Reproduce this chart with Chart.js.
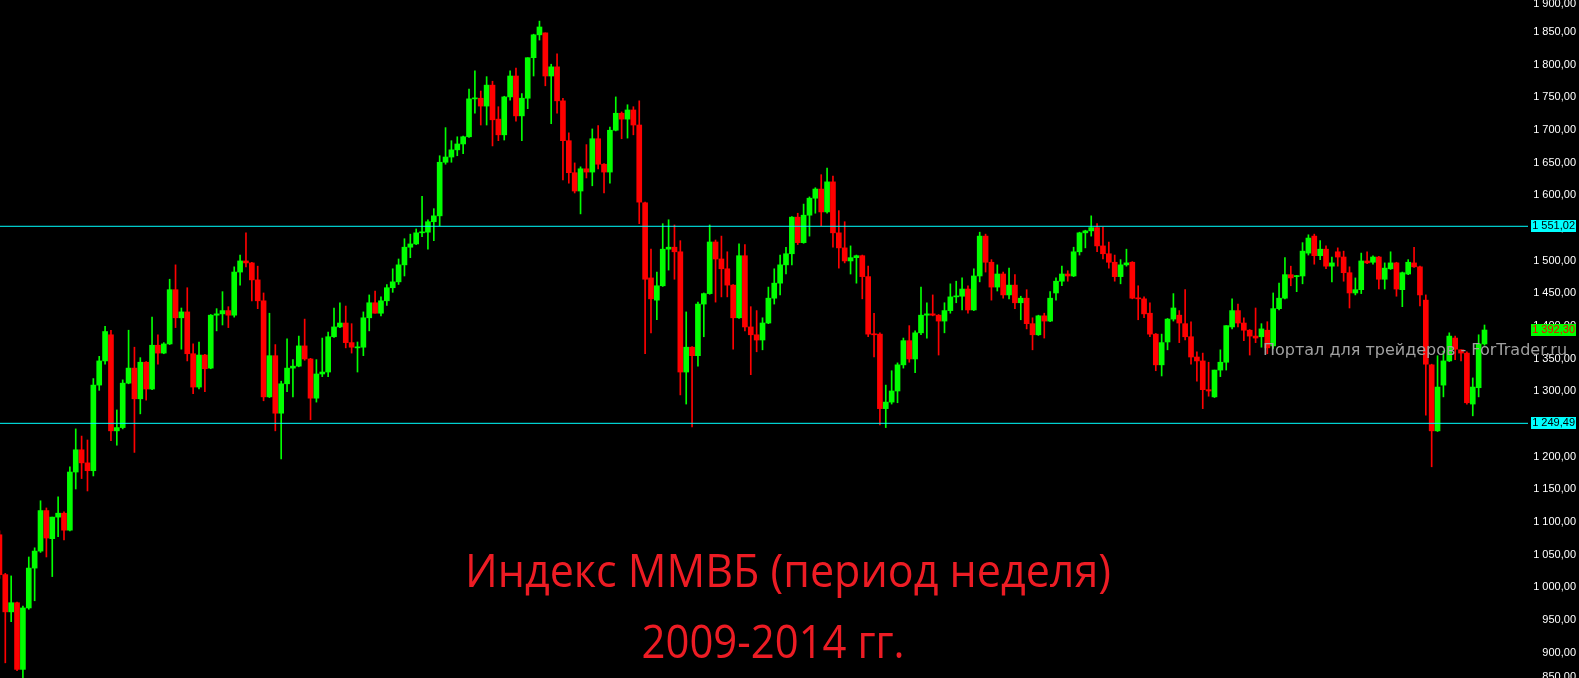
<!DOCTYPE html>
<html>
<head>
<meta charset="utf-8">
<title>Индекс ММВБ (период неделя)</title>
<script src="https://cdn.jsdelivr.net/npm/chart.js@4.4.1/dist/chart.umd.min.js"></script>
<style>
html, body { margin: 0; padding: 0; background: #000; overflow: hidden; }
canvas { display: block; }
</style>
</head>
<body>
<canvas id="chart" width="1579" height="678"></canvas>
<script>
// недельные свечи, слева направо
const opens = [
    1079, 1018, 961, 975, 873, 967, 1028, 1054, 1116, 1073,
    1106, 1112, 1086, 1175, 1209, 1189, 1177, 1308, 1345, 1385,
    1238, 1243, 1311, 1334, 1287, 1343, 1302, 1369, 1357, 1371,
    1454, 1411, 1420, 1356, 1305, 1354, 1334, 1415, 1417, 1422,
    1415, 1481, 1498, 1495, 1469, 1437, 1290, 1353, 1265, 1310,
    1334, 1337, 1368, 1348, 1288, 1325, 1328, 1382, 1397, 1403,
    1373, 1365, 1366, 1411, 1434, 1418, 1437, 1457, 1466, 1492,
    1519, 1524, 1541, 1542, 1558, 1567, 1649, 1657, 1668, 1677,
    1688, 1746, 1747, 1735, 1767, 1715, 1691, 1749, 1781, 1720,
    1747, 1809, 1844, 1847, 1781, 1795, 1743, 1682, 1633, 1605,
    1639, 1634, 1685, 1646, 1634, 1698, 1724, 1715, 1729, 1706,
    1587, 1472, 1438, 1460, 1516, 1519, 1512, 1328, 1366, 1353,
    1432, 1448, 1527, 1501, 1486, 1461, 1411, 1506, 1397, 1385,
    1377, 1403, 1441, 1464, 1492, 1509, 1565, 1526, 1568, 1594,
    1608, 1573, 1619, 1541, 1518, 1498, 1503, 1506, 1474, 1386,
    1386, 1272, 1282, 1299, 1339, 1376, 1348, 1388, 1415, 1417,
    1415, 1406, 1422, 1443, 1444, 1455, 1423, 1475, 1536, 1496,
    1458, 1478, 1446, 1461, 1434, 1441, 1402, 1385, 1414, 1406,
    1449, 1467, 1478, 1475, 1512, 1541, 1544, 1549, 1521, 1509,
    1496, 1474, 1492, 1496, 1441, 1440, 1418, 1386, 1339, 1374,
    1409, 1415, 1402, 1382, 1351, 1345, 1301, 1290, 1331, 1343,
    1397, 1422, 1403, 1392, 1383, 1382, 1392, 1368, 1425, 1441,
    1477, 1474, 1475, 1510, 1536, 1506, 1516, 1490, 1512, 1504,
    1480, 1449, 1454, 1498, 1496, 1504, 1470, 1486, 1495, 1454,
    1478, 1495, 1489, 1438, 1339, 1238, 1308, 1345, 1380, 1362,
    1357, 1279, 1304, 1371
];
const highs = [
    1085, 1020, 1016, 976, 970, 1045, 1059, 1131, 1120, 1106,
    1137, 1114, 1183, 1241, 1230, 1224, 1318, 1352, 1398, 1392,
    1270, 1316, 1392, 1366, 1350, 1344, 1412, 1385, 1373, 1470,
    1492, 1426, 1457, 1371, 1374, 1355, 1416, 1425, 1451, 1428,
    1489, 1507, 1541, 1496, 1490, 1449, 1418, 1370, 1314, 1379,
    1347, 1383, 1409, 1349, 1347, 1380, 1389, 1426, 1434, 1429,
    1402, 1374, 1420, 1446, 1452, 1443, 1462, 1486, 1501, 1532,
    1539, 1547, 1597, 1561, 1578, 1659, 1702, 1682, 1688, 1689,
    1761, 1789, 1758, 1780, 1773, 1734, 1750, 1789, 1793, 1754,
    1809, 1845, 1865, 1847, 1799, 1815, 1747, 1694, 1648, 1642,
    1676, 1700, 1705, 1647, 1703, 1749, 1726, 1737, 1734, 1743,
    1588, 1516, 1481, 1555, 1561, 1553, 1529, 1420, 1367, 1435,
    1449, 1553, 1530, 1536, 1512, 1462, 1524, 1523, 1428, 1422,
    1411, 1458, 1486, 1507, 1519, 1566, 1571, 1585, 1596, 1610,
    1630, 1640, 1628, 1575, 1558, 1521, 1507, 1507, 1490, 1418,
    1388, 1308, 1330, 1342, 1380, 1399, 1391, 1458, 1434, 1446,
    1416, 1434, 1463, 1467, 1472, 1460, 1486, 1542, 1539, 1500,
    1492, 1481, 1487, 1477, 1444, 1454, 1411, 1415, 1418, 1451,
    1472, 1490, 1483, 1519, 1542, 1545, 1567, 1555, 1550, 1527,
    1507, 1500, 1516, 1497, 1460, 1443, 1434, 1387, 1386, 1410,
    1448, 1422, 1454, 1405, 1359, 1357, 1343, 1331, 1362, 1399,
    1440, 1432, 1411, 1393, 1426, 1402, 1405, 1449, 1464, 1503,
    1490, 1476, 1526, 1538, 1539, 1529, 1521, 1504, 1518, 1513,
    1489, 1472, 1510, 1512, 1506, 1505, 1495, 1512, 1496, 1481,
    1500, 1519, 1490, 1446, 1340, 1353, 1360, 1388, 1383, 1362,
    1359, 1319, 1385, 1400
];
const lows = [
    1012, 883, 946, 871, 856, 965, 978, 1052, 1045, 1015,
    1076, 1071, 1085, 1149, 1165, 1146, 1169, 1300, 1340, 1223,
    1216, 1241, 1310, 1205, 1264, 1285, 1301, 1340, 1356, 1370,
    1396, 1363, 1345, 1295, 1302, 1298, 1333, 1391, 1400, 1396,
    1412, 1461, 1489, 1437, 1425, 1284, 1289, 1238, 1195, 1298,
    1290, 1336, 1346, 1255, 1282, 1321, 1321, 1381, 1396, 1365,
    1357, 1328, 1353, 1391, 1418, 1414, 1430, 1450, 1462, 1475,
    1503, 1523, 1535, 1516, 1529, 1552, 1646, 1649, 1659, 1662,
    1687, 1724, 1706, 1706, 1674, 1682, 1683, 1744, 1712, 1682,
    1731, 1781, 1836, 1766, 1708, 1724, 1622, 1617, 1602, 1570,
    1625, 1613, 1639, 1602, 1617, 1697, 1685, 1686, 1691, 1555,
    1356, 1388, 1408, 1459, 1484, 1470, 1293, 1279, 1244, 1337,
    1382, 1447, 1435, 1443, 1443, 1363, 1410, 1391, 1324, 1359,
    1362, 1402, 1432, 1446, 1478, 1492, 1523, 1525, 1536, 1571,
    1552, 1571, 1519, 1487, 1495, 1478, 1464, 1440, 1382, 1351,
    1247, 1243, 1279, 1281, 1334, 1343, 1327, 1385, 1380, 1414,
    1354, 1388, 1418, 1434, 1423, 1418, 1422, 1466, 1481, 1438,
    1452, 1441, 1440, 1425, 1408, 1394, 1362, 1384, 1380, 1405,
    1438, 1460, 1467, 1474, 1507, 1518, 1536, 1512, 1501, 1487,
    1467, 1463, 1490, 1440, 1408, 1411, 1382, 1330, 1322, 1362,
    1406, 1373, 1377, 1340, 1314, 1272, 1291, 1289, 1321, 1331,
    1394, 1397, 1376, 1354, 1373, 1366, 1356, 1364, 1423, 1440,
    1460, 1451, 1463, 1507, 1493, 1500, 1486, 1466, 1490, 1467,
    1426, 1446, 1448, 1494, 1493, 1455, 1455, 1485, 1444, 1428,
    1477, 1488, 1429, 1262, 1183, 1237, 1290, 1344, 1347, 1345,
    1279, 1261, 1290, 1369
];
const closes = [
    1018, 961, 975, 873, 967, 1028, 1054, 1116, 1074, 1106,
    1112, 1086, 1175, 1209, 1189, 1177, 1308, 1345, 1390, 1238,
    1243, 1311, 1334, 1287, 1343, 1302, 1369, 1357, 1371, 1454,
    1411, 1420, 1356, 1305, 1354, 1333, 1415, 1417, 1422, 1415,
    1481, 1498, 1495, 1469, 1437, 1290, 1353, 1265, 1310, 1334,
    1337, 1368, 1348, 1288, 1325, 1328, 1382, 1397, 1403, 1373,
    1366, 1366, 1411, 1434, 1418, 1437, 1457, 1466, 1492, 1519,
    1524, 1541, 1542, 1558, 1567, 1649, 1657, 1668, 1677, 1688,
    1746, 1747, 1735, 1767, 1714, 1691, 1749, 1781, 1720, 1747,
    1809, 1844, 1856, 1781, 1795, 1743, 1682, 1633, 1605, 1639,
    1634, 1685, 1646, 1634, 1698, 1724, 1715, 1729, 1706, 1588,
    1470, 1440, 1460, 1516, 1519, 1512, 1328, 1366, 1353, 1432,
    1448, 1527, 1501, 1486, 1461, 1411, 1506, 1397, 1385, 1377,
    1403, 1441, 1464, 1492, 1509, 1565, 1526, 1568, 1594, 1608,
    1573, 1619, 1541, 1518, 1498, 1503, 1506, 1474, 1386, 1385,
    1272, 1282, 1299, 1339, 1376, 1348, 1388, 1415, 1417, 1415,
    1406, 1422, 1443, 1444, 1455, 1423, 1475, 1536, 1496, 1458,
    1478, 1446, 1461, 1434, 1441, 1402, 1385, 1414, 1406, 1441,
    1467, 1478, 1475, 1512, 1541, 1544, 1549, 1521, 1509, 1496,
    1474, 1492, 1495, 1441, 1440, 1417, 1386, 1339, 1373, 1409,
    1426, 1403, 1382, 1351, 1345, 1301, 1299, 1331, 1343, 1399,
    1422, 1403, 1392, 1383, 1380, 1394, 1365, 1425, 1441, 1477,
    1472, 1475, 1513, 1533, 1506, 1516, 1490, 1495, 1504, 1480,
    1449, 1454, 1498, 1495, 1504, 1470, 1487, 1495, 1455, 1480,
    1496, 1489, 1446, 1340, 1238, 1305, 1345, 1383, 1363, 1357,
    1281, 1305, 1371, 1392.3
];

// шкала цен справа
const priceTicks = [850, 900, 950, 1000, 1050, 1100, 1150, 1200, 1250, 1300, 1350,
    1400, 1450, 1500, 1550, 1600, 1650, 1700, 1750, 1800, 1850, 1900];
// горизонтальные уровни и последняя цена
const levels = [1551.02, 1249.49];
const lastPrice = 1392.30;

const titleLines = ['Индекс ММВБ (период неделя)', '2009-2014 гг.'];
const watermark = 'Портал для трейдеров - ForTrader.ru';

const UP = '#00ff00';
const DOWN = '#ff0000';
const LEVEL = '#00ffff';

// формат цены: 1 551,02
function fmtPrice(v) {
    const parts = v.toFixed(2).split('.');
    return parts[0].replace(/\B(?=(\d{3})+(?!\d))/g, ' ') + ',' + parts[1];
}

const candleColors = closes.map((c, i) => c >= opens[i] ? UP : DOWN);

const X_MIN = 0.097;
const X_MAX = 260.41;

// фон, шкала цен, подписи
const overlay = {
    id: 'overlay',
    beforeDraw(chart) {
        const ctx = chart.ctx;
        ctx.save();
        ctx.fillStyle = '#000';
        ctx.fillRect(0, 0, chart.width, chart.height);
        ctx.restore();
    },
    afterDraw(chart) {
        const ctx = chart.ctx;
        const yScale = chart.scales.y;
        const right = 1576;
        ctx.save();

        // подписи цен
        ctx.font = '11px "Liberation Sans", Arial, sans-serif';
        ctx.textAlign = 'right';
        ctx.textBaseline = 'middle';
        ctx.fillStyle = '#ffffff';
        priceTicks.forEach(v => {
            let y = yScale.getPixelForValue(v) + 1;
            y = Math.max(4, Math.min(677, y));
            ctx.fillText(fmtPrice(v), right, y);
        });

        // водяной знак
        ctx.font = '16px "DejaVu Sans", sans-serif';
        ctx.textAlign = 'left';
        ctx.textBaseline = 'alphabetic';
        ctx.fillStyle = '#a0a0a0';
        ctx.fillText(watermark, 1263, 355, 309);

        // метки уровней
        ctx.font = '11px "Liberation Sans", Arial, sans-serif';
        ctx.textAlign = 'right';
        ctx.textBaseline = 'middle';
        levels.forEach(v => {
            const y = Math.round(yScale.getPixelForValue(v));
            ctx.fillStyle = LEVEL;
            ctx.fillRect(1531, y - 6, 45, 12);
            ctx.fillStyle = '#000';
            ctx.fillText(fmtPrice(v), right - 1, y);
        });
        const yl = Math.round(yScale.getPixelForValue(lastPrice));
        ctx.fillStyle = UP;
        ctx.fillRect(1531, yl - 6, 45, 12);
        ctx.fillStyle = DOWN;
        ctx.fillText(fmtPrice(lastPrice), right - 1, yl);

        // заголовок
        ctx.font = '46px "Open Sans", "Noto Sans", sans-serif';
        ctx.textAlign = 'center';
        ctx.textBaseline = 'alphabetic';
        ctx.fillStyle = '#ed1c24';
        ctx.fillText(titleLines[0], 788, 587, 646);
        ctx.fillText(titleLines[1], 773, 658, 263);

        ctx.restore();
    }
};

const ctx = document.getElementById('chart').getContext('2d');
const chart = new Chart(ctx, {
    type: 'bar',
    data: {
        datasets: [
            ...levels.map(v => ({
                type: 'line',
                data: [{ x: X_MIN, y: v }, { x: X_MAX, y: v }],
                borderColor: LEVEL,
                borderWidth: 1,
                pointRadius: 0,
                order: 0
            })),
            {
                label: 'body',
                data: opens.map((o, i) => ({ x: i, y: [o, closes[i]] })),
                backgroundColor: candleColors,
                borderWidth: 0,
                barThickness: 5,
                minBarLength: 1,
                grouped: false,
                order: 1
            },
            {
                label: 'wick',
                data: lows.map((l, i) => ({ x: i, y: [l, highs[i]] })),
                backgroundColor: candleColors,
                borderWidth: 0,
                barThickness: 1,
                grouped: false,
                order: 2
            }
        ]
    },
    options: {
        responsive: false,
        animation: false,
        events: [],
        layout: { padding: { left: 0, top: 0, bottom: 0, right: 51 } },
        plugins: {
            legend: { display: false },
            tooltip: { enabled: false },
            title: { display: false }
        },
        scales: {
            x: { type: 'linear', min: X_MIN, max: X_MAX, display: false, offset: false },
            y: { type: 'linear', min: 859.8, max: 1897.3, display: false }
        }
    },
    plugins: [overlay]
});
</script>
</body>
</html>
